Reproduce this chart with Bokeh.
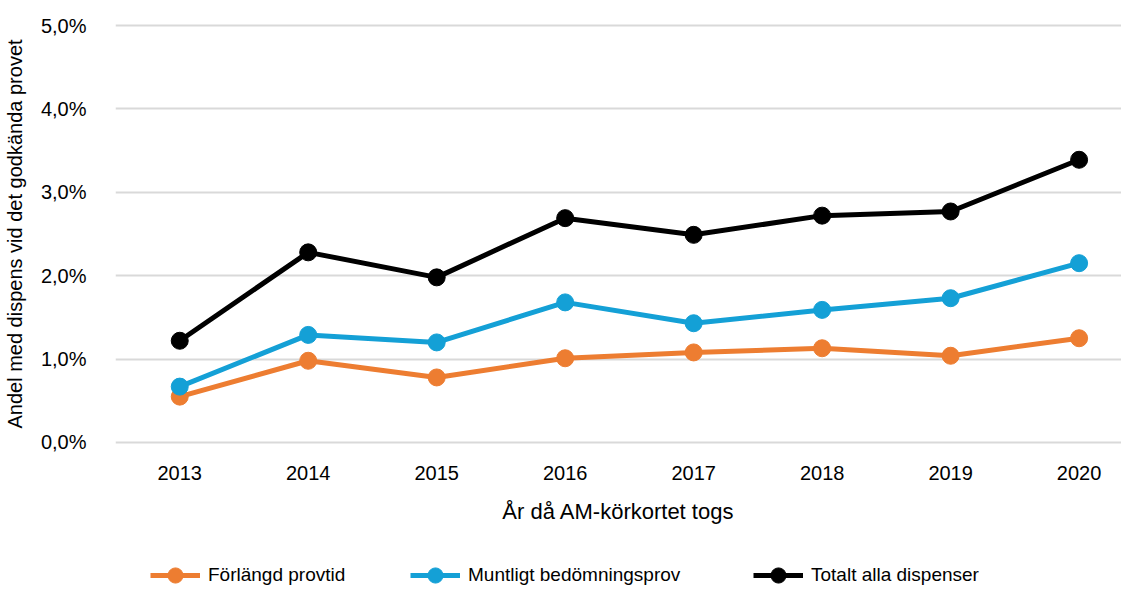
from bokeh.plotting import figure
from bokeh.layouts import column
from bokeh.models import Legend, LegendItem, FixedTicker, Range1d
from bokeh.embed import file_html
from bokeh.resources import INLINE

years = [2013, 2014, 2015, 2016, 2017, 2018, 2019, 2020]
forlangd = [0.55, 0.98, 0.78, 1.01, 1.08, 1.13, 1.04, 1.25]
muntligt = [0.67, 1.29, 1.20, 1.68, 1.43, 1.59, 1.73, 2.15]
totalt = [1.22, 2.28, 1.98, 2.69, 2.49, 2.72, 2.77, 3.39]
series_names = ["Förlängd provtid", "Muntligt bedömningsprov", "Totalt alla dispenser"]
colors = ["#ED7D31", "#14A0D6", "#000000"]
y_ticks = [0, 1, 2, 3, 4, 5]
y_tick_labels = ["0,0%", "1,0%", "2,0%", "3,0%", "4,0%", "5,0%"]

FONT = "Liberation Sans"
series = [forlangd, muntligt, totalt]

H1 = 556
p = figure(width=1121, height=H1, output_backend="svg", toolbar_location=None,
           x_range=Range1d(2012.5, 2020.33), y_range=Range1d(-0.06, 5.06),
           min_border_left=113, min_border_right=0, min_border_top=20,
           min_border_bottom=H1 - 447)
p.outline_line_color = None

for vals, c in zip(series, colors):
    p.line(years, vals, line_color=c, line_width=5)
    p.scatter(years, vals, size=17, fill_color=c, line_color=c)

p.xaxis.ticker = FixedTicker(ticks=years)
p.yaxis.ticker = FixedTicker(ticks=y_ticks)
p.yaxis.major_label_overrides = {t: lab for t, lab in zip(y_ticks, y_tick_labels)}
for ax in [p.xaxis[0], p.yaxis[0]]:
    ax.axis_line_color = None
    ax.major_tick_line_color = None
    ax.minor_tick_line_color = None
    ax.major_label_text_font = FONT
    ax.major_label_text_font_size = "20px"
    ax.major_label_text_color = "#000000"
    ax.axis_label_text_font = FONT
    ax.axis_label_text_font_style = "normal"
    ax.axis_label_text_color = "#000000"
p.xaxis.axis_label_text_font_size = "22px"
p.yaxis.axis_label_text_font_size = "20px"
p.xaxis.major_label_standoff = 12
p.yaxis.major_label_standoff = 23
p.xaxis.axis_label = "År då AM-körkortet togs"
p.xaxis.axis_label_standoff = 16
p.yaxis.axis_label = "Andel med dispens vid det godkända provet"
p.yaxis.axis_label_standoff = 12

p.xgrid.grid_line_color = None
p.ygrid.grid_line_color = "#D9D9D9"
p.ygrid.grid_line_width = 2

# Legend strip (glyphs kept outside the visible range so only the legend shows)
H2 = 38
p2 = figure(width=1121, height=H2, output_backend="svg", toolbar_location=None,
            x_range=Range1d(0, 1), y_range=Range1d(0, 1),
            x_axis_location=None, y_axis_location=None,
            min_border_left=0, min_border_right=0, min_border_top=0, min_border_bottom=0)
p2.outline_line_color = None
p2.grid.visible = False

legend_x = [35, 295, 638]
for name, vals, c, lx in zip(series_names, series, colors, legend_x):
    l = p2.line(years, vals, line_color=c, line_width=5)
    s = p2.scatter(years, vals, size=17, fill_color=c, line_color=c)
    lg = Legend(items=[LegendItem(label=name, renderers=[l, s])], location=(lx, 0),
                orientation="horizontal",
                label_text_font=FONT, label_text_font_size="19px", label_text_color="#000000",
                glyph_width=50, glyph_height=38, label_standoff=8,
                padding=0, margin=0, border_line_color=None, background_fill_alpha=0)
    p2.add_layout(lg, "center")

layout = column(p, p2, spacing=0)
open("out.html", "w").write(file_html(layout, INLINE))
